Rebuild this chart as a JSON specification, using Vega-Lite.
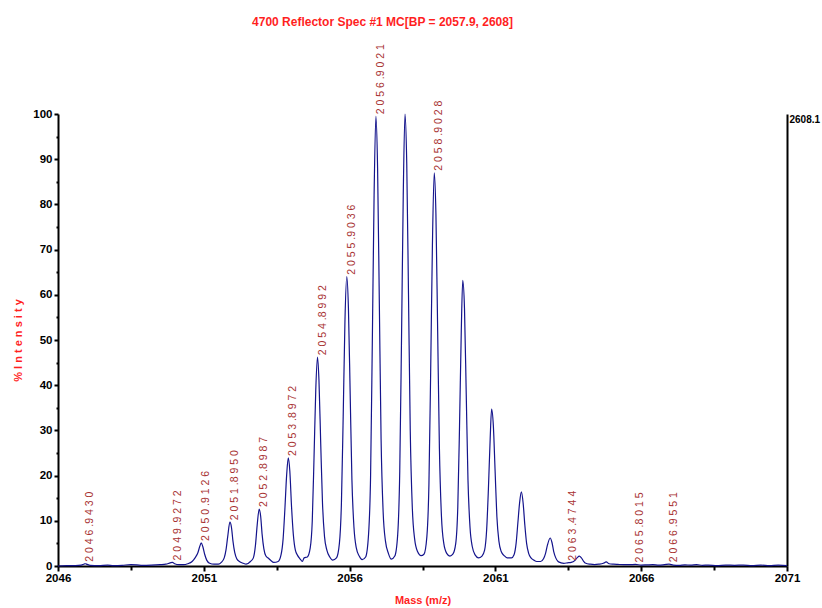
{
  "$schema": "https://vega.github.io/schema/vega-lite/v6.json",
  "autosize": "none",
  "width": 729,
  "height": 452,
  "padding": {"left": 58, "top": 114, "right": 35, "bottom": 42},
  "background": "white",
  "title": {
    "text": "4700 Reflector Spec #1 MC[BP = 2057.9, 2608]",
    "font": "Liberation Sans, Arial, sans-serif",
    "fontSize": 12,
    "fontWeight": "bold",
    "color": "#ff1f1f",
    "anchor": "middle",
    "frame": "group",
    "baseline": "alphabetic",
    "dx": -40,
    "offset": 6
  },
  "config": {
    "view": {"stroke": null},
    "axis": {
      "domainColor": "black",
      "domainWidth": 2,
      "tickColor": "black",
      "tickWidth": 2,
      "grid": false,
      "labelFont": "Liberation Sans, Arial, sans-serif",
      "labelFontWeight": "bold",
      "labelFontSize": 11.5,
      "labelColor": "black",
      "titleFont": "Liberation Sans, Arial, sans-serif",
      "titleFontWeight": "bold",
      "titleFontSize": 11,
      "titleColor": "#ff1f1f"
    }
  },
  "data": {
    "values": [
      {"mz": 2046.0, "pct": 0.0},
      {"mz": 2046.3, "pct": 0.1},
      {"mz": 2046.6, "pct": 0.1},
      {"mz": 2046.8, "pct": 0.2},
      {"mz": 2046.9, "pct": 0.45},
      {"mz": 2046.943, "pct": 0.5, "peak": true},
      {"mz": 2047.0, "pct": 0.35},
      {"mz": 2047.1, "pct": 0.15},
      {"mz": 2047.4, "pct": 0.1},
      {"mz": 2047.7, "pct": 0.2},
      {"mz": 2047.9, "pct": 0.1},
      {"mz": 2048.2, "pct": 0.15},
      {"mz": 2048.5, "pct": 0.3},
      {"mz": 2048.7, "pct": 0.25},
      {"mz": 2048.9, "pct": 0.15},
      {"mz": 2049.2, "pct": 0.2},
      {"mz": 2049.5, "pct": 0.3},
      {"mz": 2049.7, "pct": 0.4},
      {"mz": 2049.85, "pct": 0.7},
      {"mz": 2049.9272, "pct": 0.8, "peak": true},
      {"mz": 2050.0, "pct": 0.5},
      {"mz": 2050.15, "pct": 0.3},
      {"mz": 2050.3, "pct": 0.3},
      {"mz": 2050.45, "pct": 0.5},
      {"mz": 2050.6, "pct": 1.0},
      {"mz": 2050.7, "pct": 1.8},
      {"mz": 2050.8, "pct": 3.0},
      {"mz": 2050.86, "pct": 4.3},
      {"mz": 2050.9126, "pct": 5.1, "peak": true},
      {"mz": 2050.97, "pct": 4.2},
      {"mz": 2051.03, "pct": 2.6},
      {"mz": 2051.1, "pct": 1.3},
      {"mz": 2051.2, "pct": 0.6},
      {"mz": 2051.35, "pct": 0.4},
      {"mz": 2051.5, "pct": 0.4},
      {"mz": 2051.6, "pct": 0.8},
      {"mz": 2051.7, "pct": 1.8},
      {"mz": 2051.76, "pct": 3.5},
      {"mz": 2051.82, "pct": 6.5},
      {"mz": 2051.895, "pct": 9.7, "peak": true},
      {"mz": 2051.95, "pct": 8.5},
      {"mz": 2052.0, "pct": 5.5},
      {"mz": 2052.06, "pct": 3.0},
      {"mz": 2052.13, "pct": 1.6},
      {"mz": 2052.22, "pct": 1.0},
      {"mz": 2052.35, "pct": 0.6},
      {"mz": 2052.45, "pct": 0.4},
      {"mz": 2052.6, "pct": 1.0},
      {"mz": 2052.7, "pct": 1.8},
      {"mz": 2052.77, "pct": 4.5},
      {"mz": 2052.83, "pct": 9.0},
      {"mz": 2052.8987, "pct": 12.6, "peak": true},
      {"mz": 2052.95, "pct": 11.0},
      {"mz": 2053.0, "pct": 7.0},
      {"mz": 2053.06, "pct": 3.8},
      {"mz": 2053.13, "pct": 2.2},
      {"mz": 2053.22, "pct": 1.7},
      {"mz": 2053.3, "pct": 1.2},
      {"mz": 2053.4, "pct": 0.8},
      {"mz": 2053.55, "pct": 1.0},
      {"mz": 2053.65, "pct": 2.5},
      {"mz": 2053.72, "pct": 6.0},
      {"mz": 2053.78, "pct": 12.5},
      {"mz": 2053.84, "pct": 20.0},
      {"mz": 2053.8972, "pct": 23.9, "peak": true},
      {"mz": 2053.95, "pct": 21.0},
      {"mz": 2054.01, "pct": 13.0},
      {"mz": 2054.07, "pct": 7.0},
      {"mz": 2054.14, "pct": 3.5},
      {"mz": 2054.22, "pct": 2.3},
      {"mz": 2054.3, "pct": 1.6},
      {"mz": 2054.38, "pct": 1.0},
      {"mz": 2054.44, "pct": 1.8},
      {"mz": 2054.55, "pct": 2.0},
      {"mz": 2054.65, "pct": 4.0},
      {"mz": 2054.72, "pct": 10.0},
      {"mz": 2054.78, "pct": 24.0},
      {"mz": 2054.84, "pct": 39.0},
      {"mz": 2054.8992, "pct": 46.2, "peak": true},
      {"mz": 2054.95, "pct": 41.0},
      {"mz": 2055.01, "pct": 27.0},
      {"mz": 2055.07, "pct": 14.0},
      {"mz": 2055.14, "pct": 6.5},
      {"mz": 2055.22, "pct": 3.5},
      {"mz": 2055.32, "pct": 2.0},
      {"mz": 2055.42, "pct": 1.3},
      {"mz": 2055.55, "pct": 1.8},
      {"mz": 2055.65, "pct": 5.0},
      {"mz": 2055.72, "pct": 14.0},
      {"mz": 2055.78, "pct": 33.0},
      {"mz": 2055.84, "pct": 54.0},
      {"mz": 2055.9036, "pct": 64.0, "peak": true},
      {"mz": 2055.96, "pct": 57.0},
      {"mz": 2056.02, "pct": 38.0},
      {"mz": 2056.08, "pct": 19.0},
      {"mz": 2056.15, "pct": 8.5},
      {"mz": 2056.23, "pct": 4.0},
      {"mz": 2056.33, "pct": 2.2},
      {"mz": 2056.43, "pct": 1.4},
      {"mz": 2056.55, "pct": 2.0},
      {"mz": 2056.65, "pct": 7.0},
      {"mz": 2056.72, "pct": 20.0},
      {"mz": 2056.78, "pct": 50.0},
      {"mz": 2056.84, "pct": 82.0},
      {"mz": 2056.9021, "pct": 99.5, "peak": true},
      {"mz": 2056.96, "pct": 88.0},
      {"mz": 2057.02, "pct": 58.0},
      {"mz": 2057.08, "pct": 28.0},
      {"mz": 2057.15, "pct": 12.0},
      {"mz": 2057.23, "pct": 5.5},
      {"mz": 2057.33, "pct": 2.8},
      {"mz": 2057.43, "pct": 1.5},
      {"mz": 2057.55, "pct": 2.2},
      {"mz": 2057.65, "pct": 7.0},
      {"mz": 2057.72, "pct": 21.0},
      {"mz": 2057.78, "pct": 50.0},
      {"mz": 2057.84, "pct": 82.0},
      {"mz": 2057.9, "pct": 100.0},
      {"mz": 2057.96, "pct": 89.0},
      {"mz": 2058.02, "pct": 60.0},
      {"mz": 2058.08, "pct": 30.0},
      {"mz": 2058.15, "pct": 13.0},
      {"mz": 2058.23, "pct": 6.0},
      {"mz": 2058.33, "pct": 3.2},
      {"mz": 2058.45, "pct": 2.3},
      {"mz": 2058.55, "pct": 2.6},
      {"mz": 2058.65, "pct": 6.5},
      {"mz": 2058.72, "pct": 18.0},
      {"mz": 2058.78, "pct": 43.0},
      {"mz": 2058.84, "pct": 71.0},
      {"mz": 2058.9028, "pct": 87.0, "peak": true},
      {"mz": 2058.96, "pct": 78.0},
      {"mz": 2059.02, "pct": 52.0},
      {"mz": 2059.08, "pct": 26.0},
      {"mz": 2059.15, "pct": 11.0},
      {"mz": 2059.23, "pct": 5.0},
      {"mz": 2059.33, "pct": 2.8},
      {"mz": 2059.44, "pct": 2.2},
      {"mz": 2059.54, "pct": 2.6},
      {"mz": 2059.64, "pct": 5.0},
      {"mz": 2059.71, "pct": 13.0},
      {"mz": 2059.77, "pct": 31.0},
      {"mz": 2059.83, "pct": 52.0},
      {"mz": 2059.88, "pct": 63.2},
      {"mz": 2059.94, "pct": 57.0},
      {"mz": 2060.0, "pct": 38.0},
      {"mz": 2060.06, "pct": 19.0},
      {"mz": 2060.13, "pct": 8.5},
      {"mz": 2060.21, "pct": 4.2},
      {"mz": 2060.31, "pct": 2.4},
      {"mz": 2060.42, "pct": 1.8},
      {"mz": 2060.54, "pct": 2.2},
      {"mz": 2060.63, "pct": 3.5},
      {"mz": 2060.7, "pct": 8.0},
      {"mz": 2060.76, "pct": 17.0},
      {"mz": 2060.82, "pct": 28.0},
      {"mz": 2060.87, "pct": 34.7},
      {"mz": 2060.93, "pct": 31.0},
      {"mz": 2060.99, "pct": 21.0},
      {"mz": 2061.05, "pct": 11.0},
      {"mz": 2061.12, "pct": 5.5},
      {"mz": 2061.2, "pct": 3.2},
      {"mz": 2061.3, "pct": 2.3},
      {"mz": 2061.4, "pct": 1.8},
      {"mz": 2061.55, "pct": 1.8},
      {"mz": 2061.64, "pct": 2.5},
      {"mz": 2061.71, "pct": 5.0},
      {"mz": 2061.77, "pct": 9.5},
      {"mz": 2061.83, "pct": 14.0},
      {"mz": 2061.89, "pct": 16.4},
      {"mz": 2061.95, "pct": 14.0},
      {"mz": 2062.01, "pct": 9.0},
      {"mz": 2062.07, "pct": 5.0},
      {"mz": 2062.14, "pct": 2.8},
      {"mz": 2062.22, "pct": 1.8},
      {"mz": 2062.32, "pct": 1.3},
      {"mz": 2062.42, "pct": 1.0},
      {"mz": 2062.55, "pct": 1.0},
      {"mz": 2062.65, "pct": 1.6},
      {"mz": 2062.72, "pct": 2.8},
      {"mz": 2062.78, "pct": 4.5},
      {"mz": 2062.88, "pct": 6.2},
      {"mz": 2062.94, "pct": 5.2},
      {"mz": 2063.0, "pct": 3.2},
      {"mz": 2063.07, "pct": 1.8},
      {"mz": 2063.15, "pct": 1.0},
      {"mz": 2063.25, "pct": 0.7},
      {"mz": 2063.35, "pct": 0.6},
      {"mz": 2063.4744, "pct": 0.7, "peak": true},
      {"mz": 2063.6, "pct": 0.8},
      {"mz": 2063.72, "pct": 1.2},
      {"mz": 2063.8, "pct": 1.8},
      {"mz": 2063.88, "pct": 2.2},
      {"mz": 2063.95, "pct": 1.8},
      {"mz": 2064.02, "pct": 1.1},
      {"mz": 2064.1, "pct": 0.6},
      {"mz": 2064.25, "pct": 0.4},
      {"mz": 2064.4, "pct": 0.3},
      {"mz": 2064.55, "pct": 0.4},
      {"mz": 2064.7, "pct": 0.6},
      {"mz": 2064.8, "pct": 0.9},
      {"mz": 2064.9, "pct": 0.5},
      {"mz": 2065.05, "pct": 0.4},
      {"mz": 2065.2, "pct": 0.35},
      {"mz": 2065.4, "pct": 0.3},
      {"mz": 2065.6, "pct": 0.3},
      {"mz": 2065.8015, "pct": 0.35, "peak": true},
      {"mz": 2066.0, "pct": 0.2},
      {"mz": 2066.2, "pct": 0.25},
      {"mz": 2066.4, "pct": 0.3},
      {"mz": 2066.6, "pct": 0.2},
      {"mz": 2066.8, "pct": 0.3},
      {"mz": 2066.9551, "pct": 0.4, "peak": true},
      {"mz": 2067.1, "pct": 0.2},
      {"mz": 2067.3, "pct": 0.15},
      {"mz": 2067.5, "pct": 0.25},
      {"mz": 2067.7, "pct": 0.2},
      {"mz": 2067.9, "pct": 0.3},
      {"mz": 2068.1, "pct": 0.15},
      {"mz": 2068.3, "pct": 0.2},
      {"mz": 2068.6, "pct": 0.1},
      {"mz": 2068.9, "pct": 0.2},
      {"mz": 2069.2, "pct": 0.15},
      {"mz": 2069.5, "pct": 0.2},
      {"mz": 2069.8, "pct": 0.1},
      {"mz": 2070.1, "pct": 0.2},
      {"mz": 2070.4, "pct": 0.1},
      {"mz": 2070.7, "pct": 0.2},
      {"mz": 2071.0, "pct": 0.1}
    ]
  },
  "layer": [
    {
      "mark": {"type": "line", "color": "#14148c", "strokeWidth": 1.2, "interpolate": "monotone"},
      "encoding": {
        "x": {
          "field": "mz",
          "type": "quantitative",
          "scale": {"domain": [2046, 2071], "nice": false, "zero": false},
          "axis": {
            "title": "Mass (m/z)",
            "titlePadding": 11,
            "format": "d",
            "values": [2046, 2048.5, 2051, 2053.5, 2056, 2058.5, 2061, 2063.5, 2066, 2068.5, 2071],
            "labelExpr": "datum.value % 1 === 0 ? datum.label : ''",
            "tickSize": {"condition": {"test": "datum.value % 1 === 0", "value": 5}, "value": 4},
            "labelPadding": 1,
            "labelFlush": false,
            "labelOverlap": false
          }
        },
        "y": {
          "field": "pct",
          "type": "quantitative",
          "scale": {"domain": [0, 100], "nice": false},
          "axis": {
            "title": "% I n t e n s i t y",
            "titlePadding": 9,
            "values": [0, 5, 10, 15, 20, 25, 30, 35, 40, 45, 50, 55, 60, 65, 70, 75, 80, 85, 90, 95, 100],
            "labelExpr": "datum.value % 10 === 0 ? datum.label : ''",
            "tickSize": {"condition": {"test": "datum.value % 10 === 0", "value": 4}, "value": 2},
            "labelPadding": 2,
            "labelOverlap": false
          }
        }
      }
    },
    {
      "transform": [
        {"filter": "datum.peak === true"},
        {"calculate": "replace(join(split(format(datum.mz, '.4f'), ''), ' '), '. ', '.')", "as": "tag"}
      ],
      "mark": {
        "type": "text",
        "angle": 270,
        "align": "left",
        "baseline": "middle",
        "dx": 2,
        "dy": 5,
        "font": "Liberation Sans, Arial, sans-serif",
        "fontSize": 10.5,
        "color": "#a83232"
      },
      "encoding": {
        "x": {"field": "mz", "type": "quantitative"},
        "y": {
          "field": "pct",
          "type": "quantitative",
          "scale": {"domain": [0, 100], "nice": false},
          "axis": null
        },
        "text": {"field": "tag"}
      }
    },
    {
      "mark": {"type": "point", "opacity": 0},
      "encoding": {
        "x": {"field": "mz", "type": "quantitative"},
        "y": {
          "field": "pct",
          "type": "quantitative",
          "scale": {"domain": [0, 100], "nice": false},
          "axis": {
            "orient": "right",
            "title": null,
            "values": [100],
            "labelExpr": "'2608.1'",
            "ticks": false,
            "labelBaseline": "top",
            "labelPadding": 2,
            "labelFontSize": 10
          }
        }
      }
    }
  ],
  "resolve": {"scale": {"y": "independent"}}
}
